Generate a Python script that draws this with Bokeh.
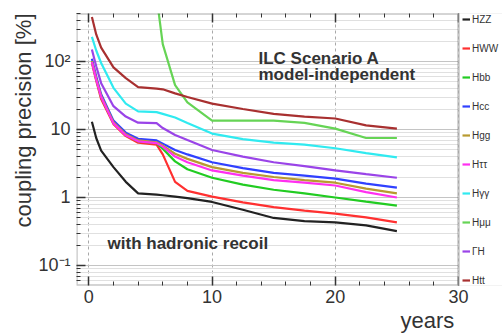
import math
from bokeh.plotting import figure
from bokeh.models import (Range1d, LinearAxis, Legend, LegendItem, Label, Title,
                          BoxAnnotation, FixedTicker, CustomJSTickFormatter)
from bokeh.embed import file_html
from bokeh.resources import INLINE

nan = float("nan")

# ---- data ----
years = [0.25, 0.6, 1, 2, 3, 4, 5.5, 6, 7, 8, 10, 12.5, 15, 17.5, 20, 22.5, 25]
hzz = [13, 7.5, 4.9, 2.8, 1.7, 1.15, 1.1, 1.08, 1.03, 0.98, 0.86, 0.66, 0.5, 0.45, 0.43, 0.39, 0.32]
hww = [95, 52, 28, 12, 8.0, 6.4, 6.0, 4.3, 1.7, 1.25, 1.03, 0.85, 0.72, 0.64, 0.58, 0.51, 0.43]
hbb = [100, 55, 30, 12.5, 8.3, 6.7, 6.3, 5.2, 3.4, 2.6, 1.95, 1.55, 1.3, 1.15, 1.0, 0.87, 0.76]
hcc = [110, 60, 33, 13.5, 9.0, 7.3, 6.9, 6.2, 5.0, 4.3, 3.3, 2.7, 2.3, 2.1, 1.9, 1.6, 1.4]
hgg = [102, 56, 31, 12.8, 8.5, 6.9, 6.5, 5.8, 4.4, 3.7, 2.8, 2.3, 2.0, 1.8, 1.65, 1.35, 1.15]
htautau = [98, 54, 30, 12.3, 8.2, 6.7, 6.3, 5.6, 4.0, 3.3, 2.5, 2.1, 1.8, 1.65, 1.5, 1.2, 1.0]
hgamgam = [230, 145, 95, 41, 24, 18.5, 18, 17, 15, 12.5, 8.7, 7.2, 6.4, 6.0, 5.3, 4.5, 3.9]
hmumu = [nan, nan, nan, nan, nan, nan, 900, 180, 45, 25, 13.5, 13.5, 13.5, 12.5, 10.3, 7.5, 7.5]
gammah = [150, 85, 48, 22, 15.5, 12.6, 12.4, 10.5, 8.3, 7.0, 5.0, 4.0, 3.3, 2.9, 2.5, 2.2, 1.95]
htt = [450, 250, 160, 82, 57, 42, 40, 39, 34, 30, 24, 20, 17, 15.5, 14.5, 11.5, 10.3]

series = [
    ("HZZ", hzz, "#222222"),
    ("HWW", hww, "#ff3030"),
    ("Hbb", hbb, "#22cc22"),
    ("Hcc", hcc, "#3040ff"),
    ("Hgg", hgg, "#b89a30"),
    ("Hττ", htautau, "#ff30f0"),
    ("Hγγ", hgamgam, "#30eaf0"),
    ("Hμμ", hmumu, "#66d455"),
    ("ΓH", gammah, "#9a44e8"),
    ("Htt", htt, "#a83030"),
]

x_major = [0, 10, 20, 30]
x_minor = [2, 4, 6, 8, 12, 14, 16, 18, 22, 24, 26, 28]
y_major = [0.1, 1, 10, 100]
y_minor = [m * 10.0 ** e for e in range(-2, 3) for m in range(2, 10)]
X_END = 30

FONT = "Liberation Sans"

# frame spans to the right canvas edge so that the legend can sit beside the axes box
p = figure(width=502, height=336, y_axis_type="log",
           x_range=Range1d(-1, 33.57), y_range=Range1d(0.0508, 508),
           output_backend="svg", toolbar_location=None,
           min_border_left=76, min_border_right=0, min_border_top=13, min_border_bottom=51,
           background_fill_color="white", border_fill_color="white")
p.outline_line_color = None

fmt = CustomJSTickFormatter(code="""
const e = Math.round(Math.log10(tick));
const m = {"-1": "10\u207b\u00b9", "0": "1", "1": "10", "2": "10\u00b2"};
return m[String(e)] ?? "";
""")

def style_axis(ax, labels=True):
    ax.axis_line_color = None
    ax.major_tick_in = 9
    ax.major_tick_out = 0
    ax.minor_tick_in = 4
    ax.minor_tick_out = 0
    ax.major_tick_line_color = "#333333"
    ax.minor_tick_line_color = "#333333"
    ax.major_tick_line_width = 1.5
    if labels:
        ax.major_label_text_font = FONT
        ax.major_label_text_font_size = "18px"
        ax.major_label_text_color = "#333333"
    else:
        ax.major_label_text_font_size = "1px"
        ax.major_label_text_alpha = 0
        ax.major_label_standoff = 0

p.xaxis.ticker = FixedTicker(ticks=x_major, minor_ticks=x_minor)
p.yaxis.ticker = FixedTicker(ticks=y_major, minor_ticks=y_minor)
p.yaxis.formatter = fmt
style_axis(p.xaxis[0])
style_axis(p.yaxis[0])
p.xaxis.major_label_standoff = 4
p.yaxis.major_label_standoff = 6

top_ax = LinearAxis(ticker=FixedTicker(ticks=x_major, minor_ticks=x_minor))
style_axis(top_ax, labels=False)
p.add_layout(top_ax, "above")

p.add_layout(Title(text="years", align="left", offset=324, standoff=0,
                   text_font=FONT, text_font_size="22px", text_font_style="normal",
                   text_color="#333333"), "below")
p.add_layout(Title(text="coupling precision [%]", align="right", offset=0, standoff=0,
                   text_font=FONT, text_font_size="22px", text_font_style="normal",
                   text_color="#333333"), "left")

p.xgrid.grid_line_color = "#a8a8a8"
p.xgrid.grid_line_dash = "3 3"
p.ygrid.grid_line_color = "#c4c4c4"
p.ygrid.minor_grid_line_color = "#e0e0e0"

# blank the area right of the axes box and draw the box outline
p.add_layout(BoxAnnotation(left=X_END, fill_color="white", fill_alpha=1, line_color=None))
p.add_layout(BoxAnnotation(right=X_END, fill_alpha=0, line_color="#444444", line_width=2.5))

items = []
for name, vals, col in series:
    r = p.line(years, vals, line_color=col, line_width=2.2)
    items.append(LegendItem(label=name, renderers=[r]))

legend = Legend(items=items, location=(386, -2), padding=0, margin=0, spacing=15,
                label_height=14, glyph_height=14, glyph_width=8, label_standoff=2,
                label_text_font=FONT, label_text_font_size="10px", label_text_color="#333333",
                border_line_color=None, background_fill_alpha=0)
p.add_layout(legend, "center")

for txt, xx, yy in [("ILC Scenario A", 13.77, 110.7), ("model-independent", 13.77, 64.4),
                    ("with hadronic recoil", 1.52, 0.211)]:
    p.add_layout(Label(x=xx, y=yy, text=txt, text_font=FONT, text_font_style="bold",
                       text_font_size="17px", text_color="#333333", text_baseline="middle"))

open("out.html", "w").write(file_html(p, INLINE))
